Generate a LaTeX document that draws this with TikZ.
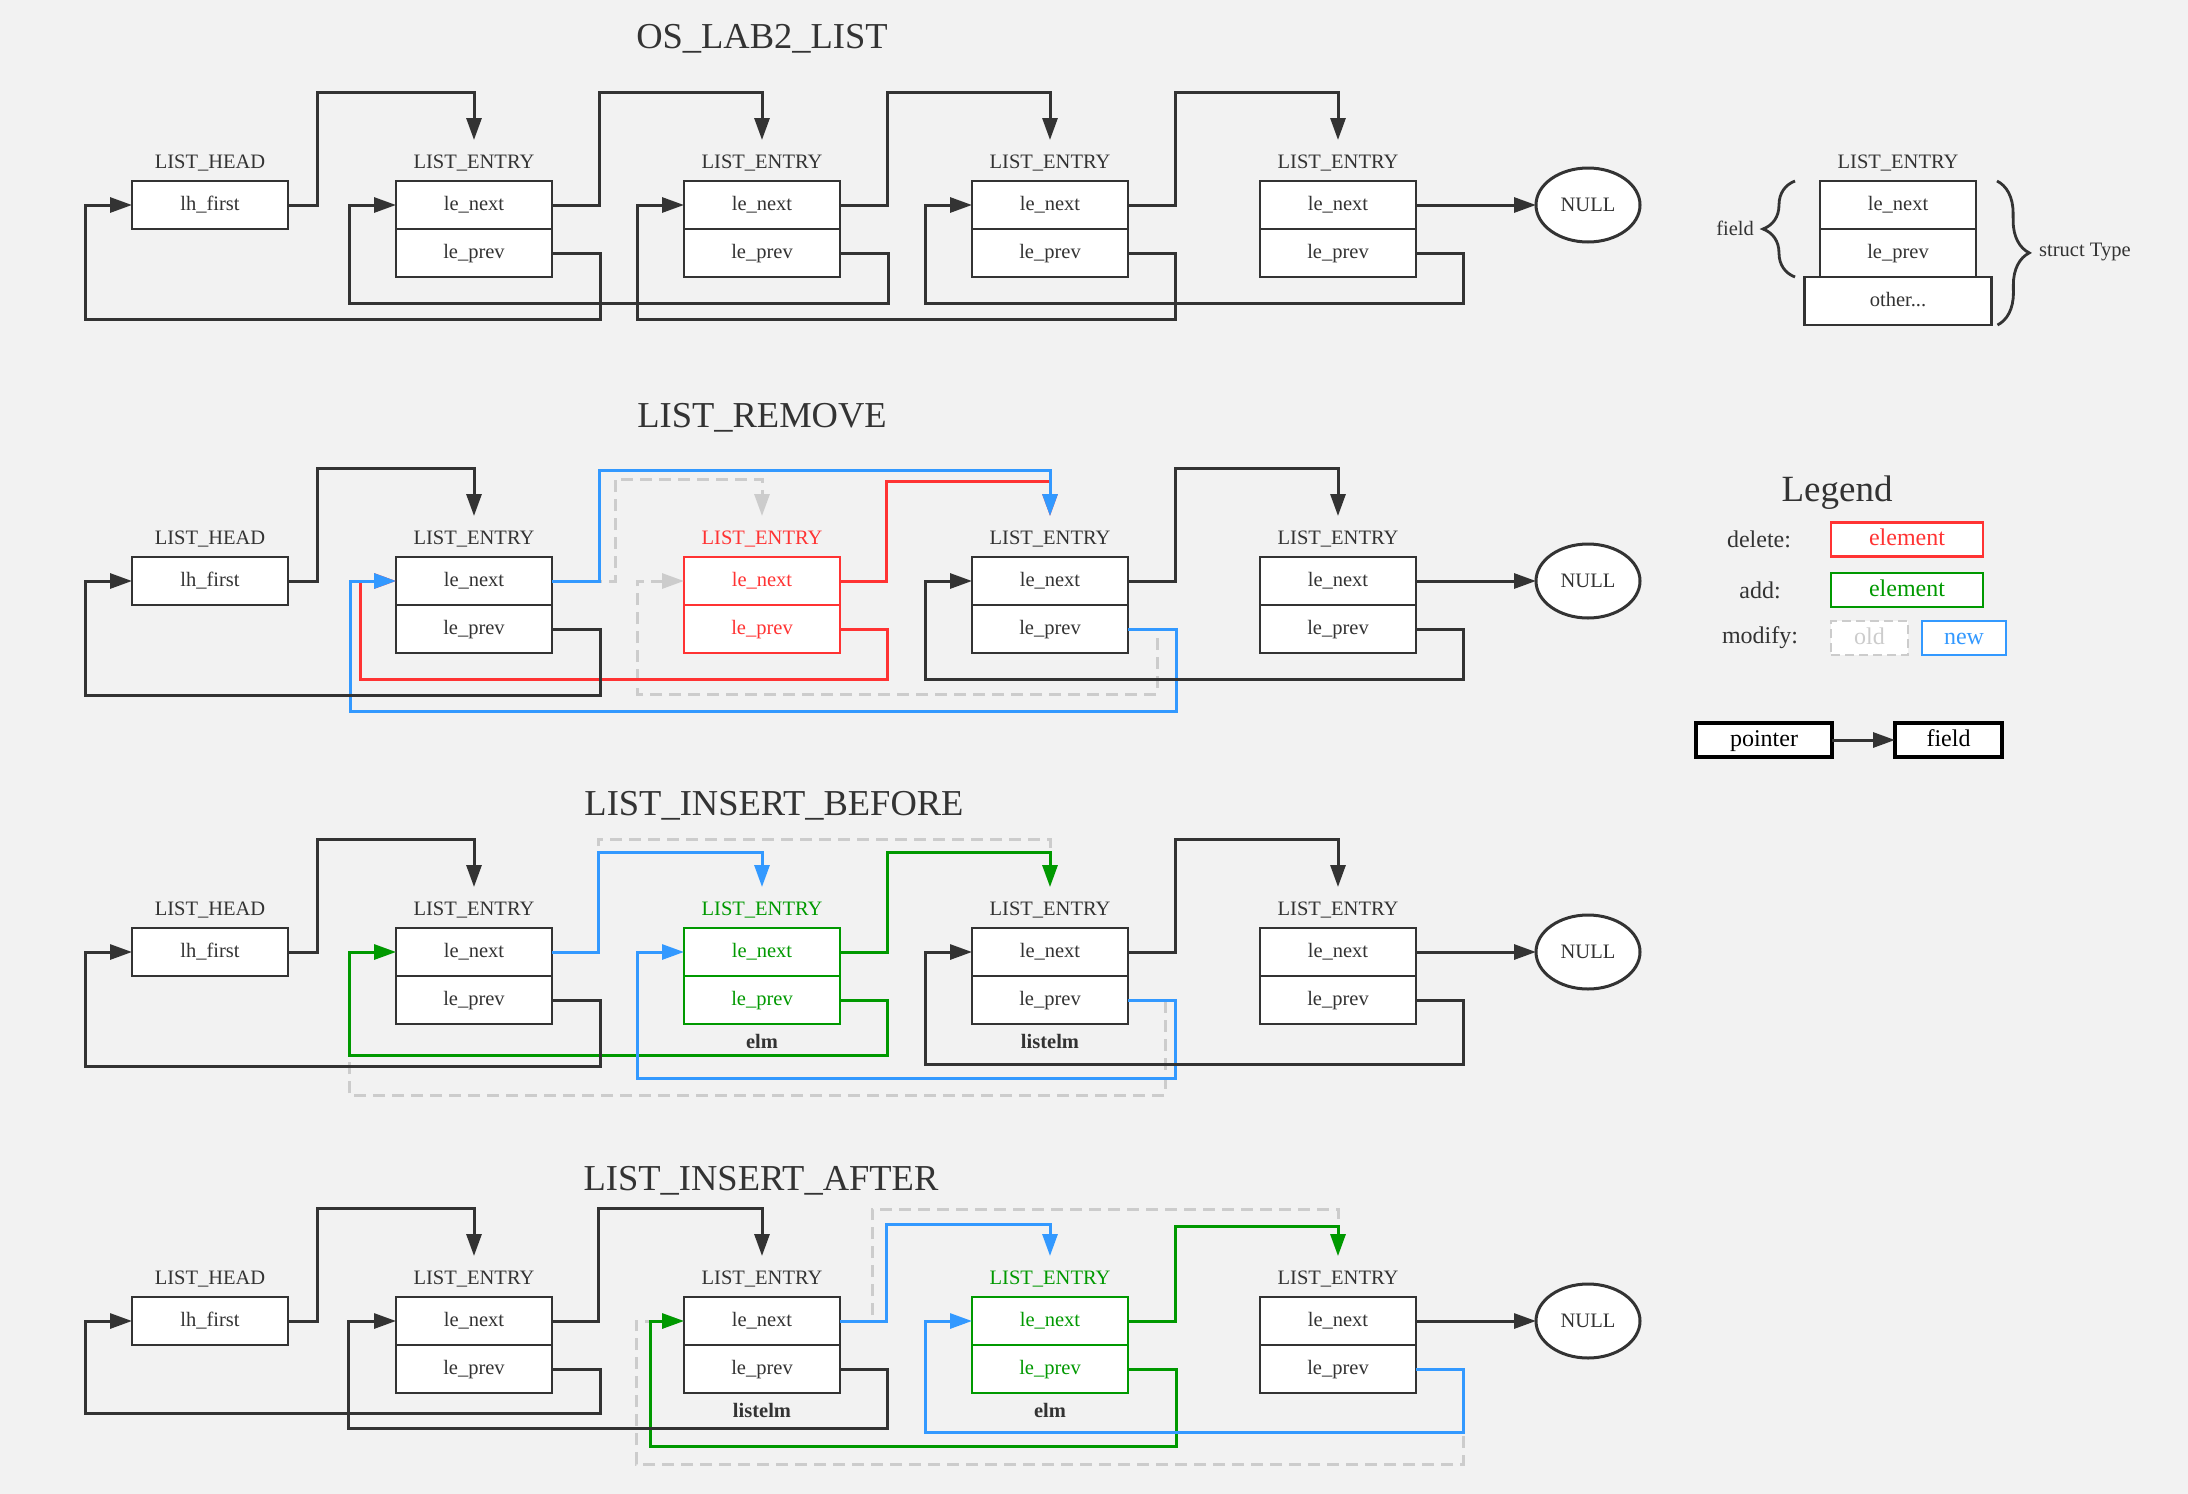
\documentclass[tikz,border=0pt]{standalone}
\usepackage{fontspec}
\setmainfont{Liberation Serif}
\definecolor{ink}{HTML}{333333}
\definecolor{delred}{HTML}{FF3333}
\definecolor{addgreen}{HTML}{009900}
\definecolor{modblue}{HTML}{3399FF}
\definecolor{oldgrey}{HTML}{CCCCCC}
\definecolor{paper}{HTML}{F2F2F2}
\usepackage{tikz}
\usetikzlibrary{arrows.meta, positioning, shapes.geometric, decorations.pathreplacing}
\usepackage{xcolor}

\newcommand{\listentry}[3]{%
  \node[fld, draw=#3, text=#3] (n#1) at #2 {le\_next};
  \node[fld, draw=#3, text=#3, below=0pt of n#1] (p#1) {le\_prev};
  \node[lbl, text=#3, above=13pt of n#1.north, anchor=base] (l#1) {LIST\_ENTRY};
}

\begin{document}
\begin{tikzpicture}[x=1pt, y=1pt,
  fld/.style={draw=ink, fill=white, line width=2.8pt, minimum width=156pt, minimum height=48pt,
              inner sep=0pt, outer sep=0pt, text=ink, font=\fontsize{20.5}{24}\selectfont,
              text height=14pt, text depth=4pt},
  lbl/.style={text=ink, font=\fontsize{20.5}{24}\selectfont, inner sep=0pt,
              text height=14pt, text depth=4pt, outer ysep=14pt},
  txt/.style={text=ink, font=\fontsize{20.5}{24}\selectfont, inner sep=0pt},
  ttl/.style={text=ink, font=\fontsize{36.5}{40}\selectfont},
  tag/.style={text=ink, font=\bfseries\fontsize{20.5}{24}\selectfont, inner sep=0pt},
  nul/.style={ellipse, draw=ink, fill=white, line width=3pt, minimum width=104pt,
              minimum height=74pt, inner sep=0pt, outer sep=0pt, text=ink,
              font=\fontsize{20.5}{24}\selectfont},
  ptr/.style={draw=#1, line width=3pt, -{Triangle[length=22pt,width=15pt]}},
  ptr/.default=ink,
  old/.style={ptr=oldgrey, dash pattern=on 12pt off 7pt},
  brc/.style={draw=ink, line width=2.8pt, decorate, decoration={brace, amplitude=32pt}},
  lgd/.style={draw, fill=white, line width=2.8pt, minimum height=34pt, inner sep=0pt,
              outer sep=0pt, font=\fontsize{24}{28}\selectfont, text height=17pt, text depth=5pt},
  key/.style={text=ink, font=\fontsize{24}{28}\selectfont},
]
  \path[fill=paper, use as bounding box] (0,0) rectangle (2188,-1494);

  \node[ttl] (t1) at (762,-39) {OS\_LAB2\_LIST};
  \node[fld] (f1) at (210,-205) {lh\_first};
  \node[lbl, above=13pt of f1.north, anchor=base] (l10) {LIST\_HEAD};
  \listentry{11}{(474,-205)}{ink}
  \listentry{12}{(762,-205)}{ink}
  \listentry{13}{(1050,-205)}{ink}
  \listentry{14}{(1338,-205)}{ink}
  \node[nul] (z1) at (1588,-205) {NULL};

  \draw[ptr] (f1.east) -- ++(29,0) -- ++(0,113) -| (l11.north);
  \draw[ptr] (n11.east) -- ++(47,0) -- ++(0,113) -| (l12.north);
  \draw[ptr] (n12.east) -- ++(47,0) -- ++(0,113) -| (l13.north);
  \draw[ptr] (n13.east) -- ++(47,0) -- ++(0,113) -| (l14.north);
  \draw[ptr] (n14.east) -- (z1.west);
  \draw[ptr] (p11.east) -- ++(48,0) -- ++(0,-66) -- ++(-515,0) |- (f1.west);
  \draw[ptr] (p12.east) -- ++(48,0) -- ++(0,-50) -- ++(-539,0) |- (n11.west);
  \draw[ptr] (p13.east) -- ++(47,0) -- ++(0,-66) -- ++(-538,0) |- (n12.west);
  \draw[ptr] (p14.east) -- ++(47,0) -- ++(0,-50) -- ++(-538,0) |- (n13.west);

  \node[fld] (sn) at (1898,-205) {le\_next};
  \node[fld, below=0pt of sn] (sp) {le\_prev};
  \node[fld, minimum width=187pt, below=0pt of sp] (so) {other...};
  \node[lbl, above=13pt of sn.north, anchor=base] (sl) {LIST\_ENTRY};
  \draw[brc] ([xshift=-25pt]sp.south west) -- ([xshift=-25pt]sn.north west);
  \node[txt, anchor=east] (fd) at (1754,-228) {field};
  \draw[brc] ([xshift=21pt]sn.north east) -- ([xshift=6pt]so.south east);
  \node[txt, anchor=west] (st) at (2039,-252) {struct Type};

  \node[ttl] (t2) at (762,-418) {LIST\_REMOVE};
  \node[fld] (f2) at (210,-581) {lh\_first};
  \node[lbl, above=13pt of f2.north, anchor=base] (l20) {LIST\_HEAD};
  \listentry{21}{(474,-581)}{ink}
  \listentry{22}{(762,-581)}{delred}
  \listentry{23}{(1050,-581)}{ink}
  \listentry{24}{(1338,-581)}{ink}
  \node[nul] (z2) at (1588,-581) {NULL};

  \draw[old] (n21.east) -- ++(63,0) -- ++(0,102) -| (l22.north);
  \draw[old] (p23.east) -- ++(29,0) -- ++(0,-65) -- ++(-520,0) |- (n22.west);
  \draw[ptr=delred] (n22.east) -- ++(46,0) -- ++(0,100) -| (l23.north);
  \draw[ptr=delred] (p22.east) -- ++(47,0) -- ++(0,-50) -- ++(-527,0) |- (n21.west);
  \draw[ptr=modblue] (n21.east) -- ++(47,0) -- ++(0,111) -| (l23.north);
  \draw[ptr=modblue] (p23.east) -- ++(48,0) -- ++(0,-82) -- ++(-826,0) |- (n21.west);
  \draw[ptr] (f2.east) -- ++(29,0) -- ++(0,113) -| (l21.north);
  \draw[ptr] (n23.east) -- ++(47,0) -- ++(0,113) -| (l24.north);
  \draw[ptr] (n24.east) -- (z2.west);
  \draw[ptr] (p21.east) -- ++(48,0) -- ++(0,-66) -- ++(-515,0) |- (f2.west);
  \draw[ptr] (p24.east) -- ++(47,0) -- ++(0,-50) -- ++(-538,0) |- (n23.west);

  \node[key, font=\fontsize{37}{40}\selectfont] (lg) at (1837,-493) {Legend};
  \node[key] (kd) at (1759,-539) {delete:};
  \node[lgd, draw=delred, text=delred, minimum width=152pt] (bd) at (1907,-539.5) {element};
  \node[key] (ka) at (1760,-590) {add:};
  \node[lgd, draw=addgreen, text=addgreen, minimum width=152pt] (ba) at (1907,-590) {element};
  \node[key] (km) at (1760,-638) {modify:};
  \node[lgd, draw=oldgrey, text=oldgrey, dash pattern=on 9pt off 5pt, minimum width=77pt] (bo) at (1869.5,-638) {old};
  \node[lgd, draw=modblue, text=modblue, minimum width=84pt] (bn) at (1964,-638) {new};
  \node[lgd, draw=black, text=black, line width=3.2pt, minimum width=136pt] (kp) at (1764,-740) {pointer};
  \node[lgd, draw=black, text=black, line width=3.2pt, minimum width=107pt] (kf) at (1948.5,-740) {field};
  \draw[ptr] (kp) -- (kf);

  \node[ttl] (t3) at (774,-806) {LIST\_INSERT\_BEFORE};
  \node[fld] (f3) at (210,-952) {lh\_first};
  \node[lbl, above=13pt of f3.north, anchor=base] (l30) {LIST\_HEAD};
  \listentry{31}{(474,-952)}{ink}
  \listentry{32}{(762,-952)}{addgreen}
  \listentry{33}{(1050,-952)}{ink}
  \listentry{34}{(1338,-952)}{ink}
  \node[nul] (z3) at (1588,-952) {NULL};
  \node[tag, below=24pt of p32.south, anchor=base] (e32) {elm};
  \node[tag, below=24pt of p33.south, anchor=base] (e33) {listelm};

  \draw[old] (n31.east) -- ++(46,0) -- ++(0,113) -| (l33.north);
  \draw[old] (p33.east) -- ++(37,0) -- ++(0,-95) -- ++(-816,0) |- (n31.west);
  \draw[ptr=addgreen] (n32.east) -- ++(47,0) -- ++(0,100) -| (l33.north);
  \draw[ptr=addgreen] (p32.east) -- ++(47,0) -- ++(0,-55) -- ++(-538,0) |- (n31.west);
  \draw[ptr=modblue] (n31.east) -- ++(46,0) -- ++(0,100) -| (l32.north);
  \draw[ptr=modblue] (p33.east) -- ++(47,0) -- ++(0,-78) -- ++(-538,0) |- (n32.west);
  \draw[ptr] (f3.east) -- ++(29,0) -- ++(0,113) -| (l31.north);
  \draw[ptr] (n33.east) -- ++(47,0) -- ++(0,113) -| (l34.north);
  \draw[ptr] (n34.east) -- (z3.west);
  \draw[ptr] (p31.east) -- ++(48,0) -- ++(0,-66) -- ++(-515,0) |- (f3.west);
  \draw[ptr] (p34.east) -- ++(47,0) -- ++(0,-64) -- ++(-538,0) |- (n33.west);

  \node[ttl] (t4) at (761,-1181) {LIST\_INSERT\_AFTER};
  \node[fld] (f4) at (210,-1321) {lh\_first};
  \node[lbl, above=13pt of f4.north, anchor=base] (l40) {LIST\_HEAD};
  \listentry{41}{(474,-1321)}{ink}
  \listentry{42}{(762,-1321)}{ink}
  \listentry{43}{(1050,-1321)}{addgreen}
  \listentry{44}{(1338,-1321)}{ink}
  \node[nul] (z4) at (1588,-1321) {NULL};
  \node[tag, below=24pt of p42.south, anchor=base] (e42) {listelm};
  \node[tag, below=24pt of p43.south, anchor=base] (e43) {elm};

  \draw[old] (n42.east) -- ++(32,0) -- ++(0,112) -| (l44.north);
  \draw[old] (p44.east) -- ++(47,0) -- ++(0,-95) -- ++(-827,0) |- (n42.west);
  \draw[ptr=addgreen] (n43.east) -- ++(47,0) -- ++(0,95) -| (l44.north);
  \draw[ptr=addgreen] (p43.east) -- ++(48,0) -- ++(0,-77) -- ++(-526,0) |- (n42.west);
  \draw[ptr=modblue] (n42.east) -- ++(46,0) -- ++(0,97) -| (l43.north);
  \draw[ptr=modblue] (p44.east) -- ++(47,0) -- ++(0,-63) -- ++(-538,0) |- (n43.west);
  \draw[ptr] (f4.east) -- ++(29,0) -- ++(0,113) -| (l41.north);
  \draw[ptr] (n41.east) -- ++(46,0) -- ++(0,113) -| (l42.north);
  \draw[ptr] (n44.east) -- (z4.west);
  \draw[ptr] (p41.east) -- ++(48,0) -- ++(0,-44) -- ++(-515,0) |- (f4.west);
  \draw[ptr] (p42.east) -- ++(47,0) -- ++(0,-59) -- ++(-539,0) |- (n41.west);
\end{tikzpicture}
\end{document}
